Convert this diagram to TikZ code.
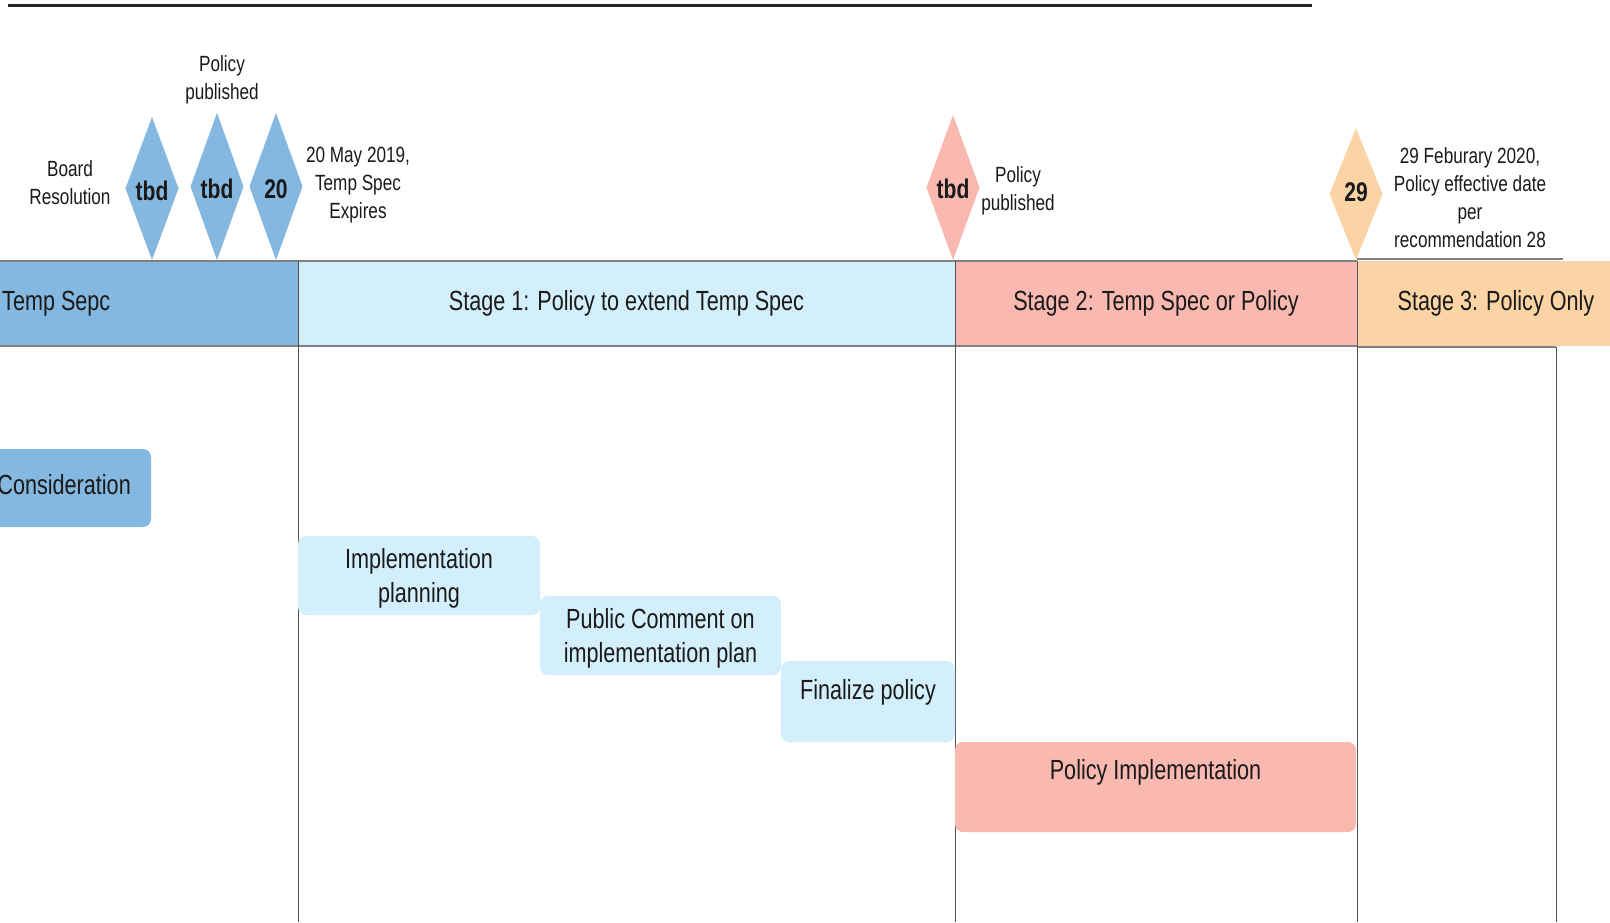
\documentclass[tikz,border=0pt]{standalone}
\usepackage{fontspec}
\setmainfont[FakeStretch=0.78]{Liberation Sans}
\usetikzlibrary{shapes.geometric}
\definecolor{cBlue}{HTML}{84B8E0}
\definecolor{cLight}{HTML}{D3EFFB}
\definecolor{cSalmon}{HTML}{F9B8B0}
\definecolor{cPeach}{HTML}{FBD4A5}
\definecolor{cText}{HTML}{1A1A1A}
\definecolor{cLine}{HTML}{808080}
\definecolor{cVert}{HTML}{555555}
\begin{document}
\begin{tikzpicture}[x=1pt,y=-1pt,
  bandbox/.style={rectangle, inner sep=0, outer sep=0, minimum height=85, text=cText, font=\fontsize{27.7}{34}\selectfont},
  actbox/.style={rectangle, rounded corners=8, inner sep=0, outer sep=0, text=cText, font=\fontsize{27.7}{34}\selectfont, align=center},
  acttext/.style={inner sep=0, text=cText, font=\fontsize{27.7}{34}\selectfont, align=center},
  milestone/.style={diamond, inner sep=0, outer sep=0, minimum width=53},
  digits/.style={inner sep=0, text=cText, font=\bfseries\fontsize{27}{30}\selectfont},
  note/.style={inner sep=0, text=cText, font=\fontsize{22}{28}\selectfont, align=center},
  gridline/.style={draw=cVert, line width=1},
  bandline/.style={draw=cLine, line width=1.5}
]
\useasboundingbox (0,0) rectangle (1610,922);
\clip (0,0) rectangle (1610,922);
\fill[white] (0,0) rectangle (1610,922);

% top rule
\coordinate (ruleL) at (8,5);
\coordinate (ruleR) at (1312,5);
\draw[line width=3, draw=black!85] (ruleL) -- (ruleR);

% header bands
\node[bandbox, fill=cBlue, minimum width=298] (b0) at (149,303.5) {};
\node[inner sep=0, anchor=west, text=cText, font=\fontsize{27.7}{34}\selectfont] (b0t) at (2,303.5) {Temp Sepc};
\node[bandbox, fill=cLight, minimum width=657] (s1) at (626.5,303.5) {Stage 1: Policy to extend Temp Spec};
\node[bandbox, fill=cSalmon, minimum width=402] (s2) at (1156,303.5) {Stage 2: Temp Spec or Policy};
\node[bandbox, fill=cPeach, minimum width=278] (s3) at (1496,303.5) {Stage 3: Policy Only};

% band borders
\draw[bandline] (0,261) -- (1357,261);
\draw[bandline] (0,346) -- (1357,346);
\draw[bandline] (1357,259) -- (1563,259);
\draw[bandline] (1357,347) -- (1556,347);

% vertical grid lines
\coordinate (v1t) at (298,261); \coordinate (v1b) at (298,922);
\coordinate (v2t) at (955,261); \coordinate (v2b) at (955,922);
\coordinate (v3t) at (1357,261); \coordinate (v3b) at (1357,922);
\coordinate (v4t) at (1556,347); \coordinate (v4b) at (1556,922);
\draw[gridline] (v1t) -- (v1b);
\draw[gridline] (v2t) -- (v2b);
\draw[gridline] (v3t) -- (v3b);
\draw[gridline] (v4t) -- (v4b);

% milestones
\node[milestone, fill=cBlue, minimum height=143] (m1) at (152,188.5) {};
\node[milestone, fill=cBlue, minimum height=147] (m2) at (217,186.5) {};
\node[milestone, fill=cBlue, minimum height=147] (m3) at (276,186.5) {};
\node[milestone, fill=cSalmon, minimum height=145] (m4) at (953,187.5) {};
\node[milestone, fill=cPeach, minimum height=132] (m5) at (1356,194) {};
\node[digits] (m1t) at (152,191) {tbd};
\node[digits] (m2t) at (217,189) {tbd};
\node[digits] (m3t) at (276,189) {20};
\node[digits] (m4t) at (953,189) {tbd};
\node[digits] (m5t) at (1356,192) {29};

% milestone notes
\node[note] (n1) at (70,183) {Board\\Resolution};
\node[note] (n2) at (222,80) {Policy\\published};
\node[note] (n3) at (358,185) {20 May 2019,\\Temp Spec\\Expires};
\node[note] (n4) at (1018,191) {Policy\\published};
\node[note] (n5) at (1470,198) {29 Feburary 2020,\\Policy effective date\\per\\recommendation 28};

% activities
\node[actbox, fill=cBlue, minimum width=220, minimum height=78] (cons) at (41,488) {};
\node[acttext, anchor=east] (const) at (131,485) {Consideration};
\node[actbox, fill=cLight, minimum width=242, minimum height=79] (impl) at (419,575.5) {};
\node[acttext] (implt) at (419,578.5) {Implementation\\planning};
\node[actbox, fill=cLight, minimum width=241, minimum height=79] (pub) at (660.5,635.5) {};
\node[acttext] (pubt) at (660.5,638) {Public Comment on\\implementation plan};
\node[actbox, fill=cLight, minimum width=174, minimum height=81] (fin) at (868,701.5) {};
\node[acttext] (fint) at (868,692) {Finalize policy};
\node[actbox, fill=cSalmon, minimum width=401, minimum height=90] (pimp) at (1155.5,787) {};
\node[acttext] (pimpt) at (1155.5,772) {Policy Implementation};
\end{tikzpicture}
\end{document}
